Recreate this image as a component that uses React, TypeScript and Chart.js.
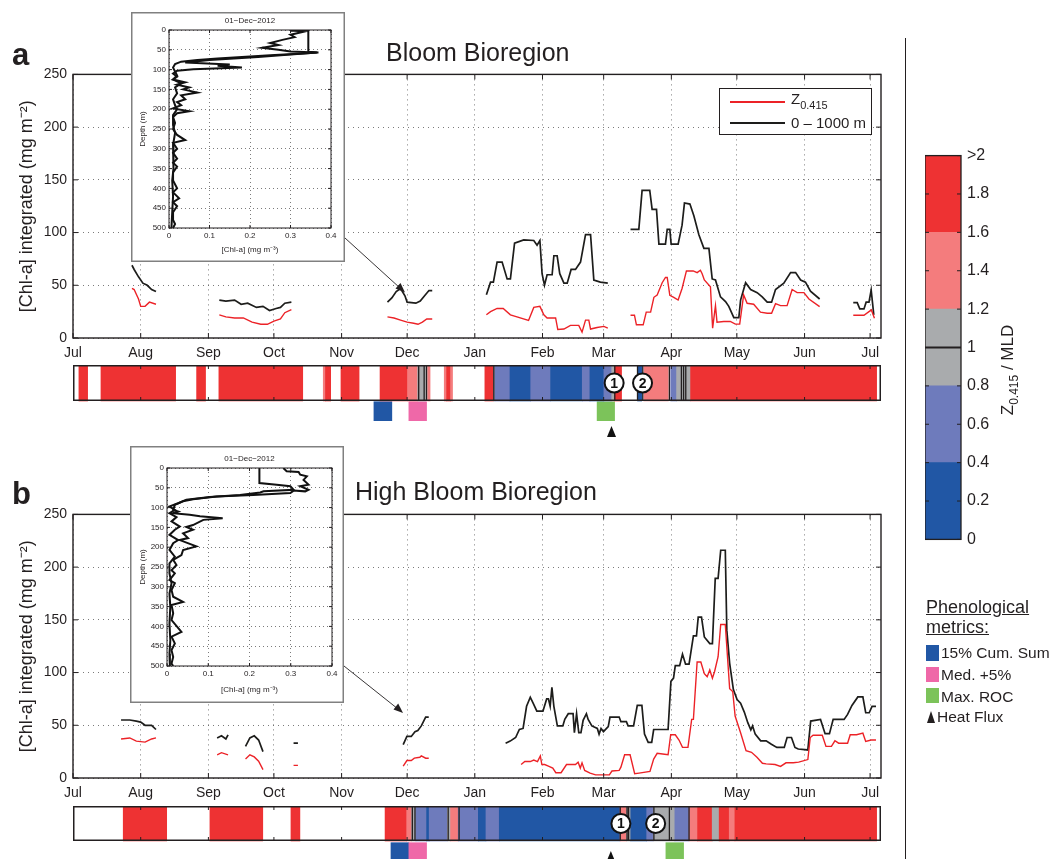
import React, { useEffect, useRef } from 'react';
import { Chart, registerables } from 'chart.js';

Chart.register(...registerables);

const FONT = '"Liberation Sans", Arial, Helvetica, sans-serif';
Chart.defaults.font.family = FONT;
Chart.defaults.font.size = 14;
Chart.defaults.color = '#231f20';

// ---------------- axes / ticks ----------------
const MONTH_DAYS = [0, 31, 62, 92, 123, 153, 184, 215, 243, 274, 304, 335, 365];
const MONTH_LABELS = ['Jul', 'Aug', 'Sep', 'Oct', 'Nov', 'Dec', 'Jan', 'Feb', 'Mar', 'Apr', 'May', 'Jun', 'Jul'];
const Y_TICKS = [0, 50, 100, 150, 200, 250];
const CB_TICKS = [0, 0.2, 0.4, 0.6, 0.8, 1, 1.2, 1.4, 1.6, 1.8, 2];
const CB_TICK_LABELS = ['0', '0.2', '0.4', '0.6', '0.8', '1', '1.2', '1.4', '1.6', '1.8', '>2'];
const CB_EDGES = [0, 0.4, 0.8, 1.2, 1.6, 2];
const INSET_X_TICKS = [0, 0.1, 0.2, 0.3, 0.4];
const INSET_X_LABELS = ['0', '0.1', '0.2', '0.3', '0.4'];
const INSET_Y_TICKS = [0, 50, 100, 150, 200, 250, 300, 350, 400, 450, 500];

// ---------------- Bloom bioregion (a): [day since 1 Jul, mg m^-2] ----------------
const bloomBlack = [
  [27, 69], [28, 65], [30, 58], [32, 52], [34, 50], [36, 46], [38, 44], [50, null],
  [67, 36], [70, 35], [74, 36], [77, 32], [80, 33], [84, 29], [87, 30], [90, 26], [93, 28], [95, 29], [97, 33], [100, 34], [120, null],
  [144, 34], [146, 38], [148, 44], [150, 47], [152, 40], [153, 34], [157, 33], [159, 35], [161, 40], [163, 45], [164.5, 45], [175, null],
  [189.3, 41], [191.2, 53], [192.5, 53], [194.2, 72], [196.5, 72], [198.8, 56], [200.3, 56], [202.2, 90], [206.4, 93], [211, 92.5], [212.5, 88], [213.8, 92.5], [214.8, 61], [215.9, 50], [217.1, 60], [219.4, 60], [220.2, 78], [221.7, 78], [222.9, 61], [224.8, 52], [226.3, 52], [228.1, 65], [230.1, 65], [232.4, 72], [234.7, 98], [237, 98], [238.5, 55], [241.5, 53], [244.9, 52], [250, null],
  [255.3, 103], [259.1, 103], [260.6, 140], [264.1, 140], [265.2, 122], [267.2, 122], [268.3, 89], [271.3, 89], [272.1, 103], [273.3, 103], [273.9, 89], [277.1, 89], [278.9, 107], [280, 128], [282.5, 127], [284.3, 116], [286.6, 98], [288.9, 85], [291.2, 85], [292.7, 56], [294.2, 55], [296.5, 39], [298.8, 34.5], [300.3, 30], [302.6, 19.4], [304.9, 19.4], [305.7, 36], [308, 52.4], [310.3, 46], [313.3, 43], [315.6, 39], [317.9, 34], [319.9, 34], [321.7, 46], [325.5, 52], [328.6, 62], [330.9, 62], [333.2, 55], [335.4, 53], [337.7, 44.5], [341.9, 37], [350, null],
  [357.3, 33.5], [359.1, 33.5], [360.3, 27.6], [362.2, 27.6], [363.2, 34], [364.5, 34], [365.5, 45.5], [366.7, 22],
];
const bloomRed = [
  [27, 47], [28, 46], [30, 37], [31, 30], [33, 30], [35, 34], [38, 32], [50, null],
  [67, 22], [70, 20], [74, 19], [78, 19], [82, 15], [86, 13], [89, 13], [92, 16], [95, 18], [97, 24], [100, 27], [120, null],
  [144, 20], [147, 19], [150, 17], [153, 15], [156, 14], [158, 13], [160, 15], [162, 18], [164.5, 18], [175, null],
  [189.3, 22], [191.2, 25], [194.2, 28], [197, 28], [200.3, 22], [203.3, 20], [208.6, 16.6], [211, 29], [213.8, 30], [215.6, 22], [217.1, 19], [221, 19], [222, 8], [224.8, 8.5], [227.8, 12], [231.6, 12], [233.1, 5.6], [234.7, 17], [236.2, 17], [237, 8.5], [240, 10], [243.1, 11], [244.9, 9.4], [250, null],
  [255.3, 21.6], [257.1, 21.6], [258, 12.5], [261.1, 12.5], [262.5, 24.5], [264.5, 24.5], [266, 38.6], [267.5, 40.8], [269.8, 52.4], [271.3, 57.4], [272.1, 57.4], [273.3, 40.4], [275.1, 38.6], [277.1, 36], [278.9, 47], [280.9, 63.6], [284, 63.6], [285.8, 62], [287.3, 64.3], [288.1, 61], [289.1, 55], [291.9, 48.6], [292.9, 9.4], [294.2, 30.7], [294.9, 15], [298, 15.7], [301, 15.7], [303.3, 13.2], [305.3, 13.2], [307.1, 40.8], [308.7, 32.9], [311.7, 32], [314.8, 24.5], [317.9, 23.5], [319.9, 23.5], [321.7, 32.6], [324, 30.7], [327, 30.7], [329.3, 46], [331.6, 43], [334.7, 43], [337, 37], [341.9, 29.8], [350, null],
  [357.3, 21.6], [362.2, 21.6], [364.5, 25], [365.6, 26.6], [367, 18.8],
];

// ---------------- High bloom bioregion (b) ----------------
const highBlack = [
  [22, 55], [26, 55], [29, 54], [31, 53], [33, 50], [36, 50], [38, 46], [50, null],
  [66, 38], [68, 40], [70, 37], [71, 41], [75, null],
  [79, 30], [81, 38], [83, 40], [85, 36], [87, 25], [95, null],
  [101, 33], [103, 33], [120, null],
  [151.2, 31.6], [152.9, 39.4], [154.9, 39.4], [156.6, 43.8], [157.9, 45], [159.5, 49.4], [161.5, 57.8], [162.9, 57.8], [180, null],
  [198.1, 33], [200.2, 35], [202.7, 38.4], [204.4, 46], [206.1, 47], [207.7, 68], [209.4, 76.6], [210.7, 71], [212.4, 63.4], [215.2, 63.4], [216.9, 75], [217.7, 75], [218.5, 68], [219.3, 86], [220.2, 68], [221.8, 49.4], [224.3, 49.4], [225.2, 55.6], [226.8, 61], [229, 61], [229.6, 43], [230.6, 61], [231.6, 43], [232.6, 43], [233.6, 54.7], [235.1, 61], [235.9, 55.6], [237.6, 49.4], [240.1, 47], [240.9, 41.6], [241.8, 47], [242.9, 44], [245.1, 48.8], [245.9, 57.8], [250.1, 57.8], [250.9, 53.4], [253.4, 53.4], [254.2, 49.4], [256.7, 49.4], [258.4, 68.8], [260.5, 68.8], [261.7, 41.6], [263.4, 33.8], [265, 33.8], [265.9, 46], [272.5, 46], [273.8, 91.6], [275, 94.7], [275.8, 106.6], [277.8, 106.6], [279.1, 117.5], [280.5, 108], [282.1, 108], [284.1, 134.7], [285.5, 134.7], [286.3, 152.5], [287.8, 152.5], [289.1, 133.8], [291.6, 127.5], [292.8, 127.5], [294.1, 189.4], [295.4, 189.4], [296.6, 216], [298.7, 216], [299.4, 140], [300.7, 108.8], [302.4, 83.8], [304.1, 74.4], [305.7, 71], [307.4, 62.5], [309, 52.5], [310.4, 45.6], [311.2, 49.4], [312.4, 41.6], [314.9, 35.3], [317.4, 35.3], [319.8, 32], [322.3, 29], [325.7, 29], [327, 38.4], [329, 38.4], [330.6, 29], [332.1, 27.5], [336.5, 26.6], [337.8, 54], [342.3, 55.6], [344.4, 42], [346.4, 42], [348.1, 55.6], [353.1, 55.6], [354.7, 60.3], [356.7, 68.8], [359.4, 76.9], [361.7, 76.9], [363, 61.9], [364.6, 61.9], [365.9, 68], [367.7, 68],
];
const highRed = [
  [22, 37], [26, 38], [29, 35], [33, 34], [36, 37], [38, 38], [50, null],
  [66, 22], [68, 24], [71, 22], [75, null],
  [79, 18], [81, 22], [83, 20], [85, 16], [87, 8], [95, null],
  [101, 12], [103, 12], [120, null],
  [151.2, 11.3], [152.9, 16.6], [154.9, 16.6], [156.3, 18.8], [158.8, 19.7], [159.5, 21], [161.5, 18.8], [162.9, 18.8], [180, null],
  [205.2, 12.8], [206.9, 15.6], [209.4, 15.6], [211, 17], [212.7, 15.6], [214, 21], [214.7, 12.8], [216, 12.8], [217.7, 11.3], [219.7, 9.4], [221.1, 5], [223.5, 5], [226, 12.8], [230.1, 12.8], [231.3, 15], [232.3, 9.4], [233.1, 14.4], [234.3, 7.2], [236.8, 4.7], [239.3, 3], [245.6, 3], [246.8, 6.6], [250.1, 7.2], [250.9, 10.3], [252.6, 22], [255.1, 22], [257.2, 4], [259.2, 4.6], [264.2, 6.3], [265.9, 18], [267.5, 23.4], [270, 22.8], [272.5, 22], [273.7, 41], [275.8, 41], [277.5, 36], [279.1, 29], [281.6, 29], [283.3, 55.6], [284.1, 55.6], [285.8, 110], [287.5, 110], [289.1, 99], [290.4, 96], [291.6, 102.5], [292.8, 94.7], [293.8, 101], [295.4, 115], [296.6, 145.6], [298.7, 145.6], [300.7, 84.7], [302.1, 82], [303.2, 58.8], [305.7, 43], [308.2, 26], [310.7, 24.4], [313.2, 19.7], [315.7, 14], [317.4, 13.4], [321.5, 12.8], [324, 11], [326.5, 14.4], [329.8, 14.4], [332.3, 15], [336.5, 17.5], [337.6, 38.4], [338.9, 40.6], [343.1, 40.6], [344.8, 30], [347.3, 30], [348.9, 35.3], [350.6, 33], [354.7, 33], [355.9, 41], [358.8, 41], [361.7, 42.5], [363, 34.7], [365.5, 36], [367.7, 36],
];

// ---------------- Z0.415 / MLD strips: [start day, end day, ratio] ----------------
const bloomStrip = [
  [2.7, 6.7, 1.8], [12.8, 47, 1.8], [56.6, 60.7, 1.8], [66.8, 105.2, 1.8], [114.6, 115.6, 1.4], [115.6, 118, 1.8],
  [122.7, 131, 1.8], [140.6, 153.2, 1.8], [153.2, 157.8, 1.4], [157.8, 161.5, 1.0], [162.4, 163.5, 1.4],
  [170, 171.1, 1.4], [171.1, 172.9, 1.8], [172.9, 173.8, 1.4], [188.6, 192.5, 1.8], [192.5, 193.2, 1.0],
  [193.2, 200.1, 0.6], [200.1, 209.6, 0.2], [209.6, 218.7, 0.6], [218.7, 233.2, 0.2], [233.2, 236.7, 0.6],
  [236.7, 243.1, 0.2], [243.1, 246.7, 0.6], [246.7, 248, 1.0], [248, 251.2, 1.8], [258.5, 260.4, 0.2],
  [261.4, 272.6, 1.4], [273.7, 276.4, 0.6], [276.4, 282.8, 1.0], [282.8, 368, 1.8],
];
const bloomCrossings = [158.3, 160.8, 161.9, 192.7, 248.1, 258.5, 260.9, 273.1, 278.6, 279.6, 280.6];
const highStrip = [
  [23, 42.9, 1.8], [62.7, 86.9, 1.8], [99.8, 103.9, 1.8], [142.9, 152.8, 1.8], [152.8, 155.1, 1.4], [155.1, 157, 1.0],
  [157, 161.9, 0.6], [161.9, 163.1, 0.2], [163.1, 171.4, 0.6], [171.4, 172.9, 1.0], [172.9, 176.4, 1.4],
  [176.4, 185.6, 0.6], [185.6, 189.1, 0.2], [189.1, 195.2, 0.6], [195.2, 250.5, 0.2], [250.5, 253.5, 1.4],
  [253.5, 255.4, 1.0], [255.4, 262.7, 0.2], [262.7, 265.7, 0.6], [265.7, 275.6, 1.0], [275.6, 282.1, 0.6],
  [282.1, 286, 1.4], [286, 292.7, 1.8], [292.7, 295.9, 1.0], [295.9, 300.5, 1.8], [300.5, 303.1, 1.4], [303.1, 368, 1.8],
];
const highCrossings = [155.4, 156.6, 171.8, 176.8, 250.6, 253.7, 254.4, 266, 273.1, 282.1];

// ---------------- phenological metrics ----------------
const bloomCumSum = [137.8, 146];
const bloomMedian = [153.8, 161.9];
const bloomMaxRoc = [240, 248];
const bloomHeatFlux = 246.6;
const bloomEvents = [247.8, 260.8];
const highCumSum = [145.6, 153.8];
const highMedian = [153.8, 161.9];
const highMaxRoc = [271.5, 279.6];
const highHeatFlux = 246.3;
const highEvents = [250.9, 266.8];

// ---------------- inset profiles 01-Dec-2012: [Chl-a mg m^-3, depth m] ----------------
const bloomProfile1 = [
  [0.31, 0], [0.33, 5], [0.30, 12], [0.31, 18], [0.28, 25], [0.25, 33], [0.27, 38], [0.23, 45], [0.27, 50], [0.30, 54],
  [0.365, 57], [0.30, 62], [0.22, 68], [0.16, 72], [0.10, 76], [0.04, 82], [0.15, 87], [0.12, 90], [0.18, 95], [0.06, 99],
  [0.02, 103], [0.01, 110], [0.02, 118], [0.01, 125], [0.04, 132], [0.02, 138], [0.05, 145], [0.035, 150], [0.07, 158],
  [0.03, 165], [0.04, 175], [0.02, 182], [0.03, 190], [0.01, 198], [0.05, 205], [0.02, 210], [0.01, 220], [0.015, 235],
  [0.01, 250], [0.02, 265], [0.04, 278], [0.01, 285], [0.02, 300], [0.01, 310], [0.02, 325], [0.01, 335], [0.02, 345],
  [0.01, 360], [0.01, 380], [0.02, 400], [0.01, 410], [0.025, 425], [0.01, 435], [0.02, 445], [0.01, 460], [0.01, 480],
  [0.015, 490], [0.01, 500],
];
const bloomProfile2 = [
  [0.30, 2], [0.344, 2], [0.344, 55], [0.369, 57], [0.32, 60], [0.25, 64], [0.18, 68], [0.12, 72], [0.07, 76], [0.03, 80],
  [0.015, 86], [0.01, 95], [0.015, 105], [0.02, 115], [0.01, 125], [0.03, 135], [0.015, 145], [0.02, 160], [0.01, 175],
  [0.015, 190], [0.02, 200], [0.01, 215], [0.01, 240], [0.015, 260], [0.01, 290], [0.012, 320], [0.01, 350], [0.008, 380],
  [0.01, 420], [0.008, 460], [0.006, 500],
];
const highProfile1 = [
  [0.282, 0], [0.29, 8], [0.319, 10], [0.323, 17], [0.339, 21], [0.331, 30], [0.343, 42], [0.323, 46], [0.343, 55],
  [0.335, 59], [0.307, 57], [0.299, 63], [0.209, 68], [0.12, 72], [0.063, 79], [0.039, 84], [0.019, 93], [0.015, 106],
  [0.027, 110], [0.015, 114], [0.055, 118], [0.08, 122], [0.135, 127], [0.088, 131], [0.063, 144], [0.047, 149],
  [0.063, 156], [0.039, 165], [0.051, 177], [0.031, 182], [0.071, 198], [0.039, 207], [0.035, 220], [0.015, 232],
  [0.023, 245], [0.011, 258], [0.019, 266], [0.006, 283], [0.019, 291], [0.011, 308], [0.015, 325], [0.039, 338],
  [0.011, 346], [0.015, 367], [0.011, 384], [0.035, 414], [0.011, 426], [0.019, 443], [0.011, 460], [0.015, 477],
  [0.011, 494], [0.015, 500],
];
const highProfile2 = [
  [0.224, 0], [0.224, 38], [0.266, 42], [0.299, 46], [0.307, 55], [0.234, 59], [0.226, 62], [0.177, 68], [0.104, 73],
  [0.047, 80], [0.027, 89], [0.006, 97], [0.019, 106], [0.006, 114], [0.023, 124], [0.011, 135], [0.031, 148],
  [0.019, 156], [0.006, 169], [0.027, 182], [0.015, 190], [0.006, 207], [0.019, 224], [0.006, 241], [0.006, 266],
  [0.011, 291], [0.006, 317], [0.008, 350], [0.006, 393], [0.008, 435], [0.006, 469], [0.007, 500],
];

// ---------------- styles ----------------
const RED_LINE = '#ec2227';
const BLACK_LINE = '#1d1d1b';
const GRID = 'rgba(90,90,90,0.8)';
const C_DBLUE = '#2157a5';
const C_MBLUE = '#6e7bbc';
const C_GREY = '#a9abad';
const C_PINK = '#f47c7d';
const C_RED = '#ee3233';
const C_MAGENTA = '#ef68a8';
const C_GREEN = '#7cc35a';
const CB_COLORS = [C_DBLUE, C_MBLUE, C_GREY, C_PINK, C_RED];

function ratioColor(r: number) {
  if (r < 0.4) return C_DBLUE;
  if (r < 0.8) return C_MBLUE;
  if (r < 1.2) return C_GREY;
  if (r < 1.6) return C_PINK;
  return C_RED;
}

const toXY = (pairs: any[]) => pairs.map(([x, y]) => ({ x, y }));

function makeFramePlugin(tickLen: number, lw: number, allSides = true) {
  return {
    id: 'axesFrame',
    afterDatasetsDraw(chart: any) {
      const { ctx, chartArea: a, scales } = chart;
      const xs = scales.x, ys = scales.y;
      ctx.save();
      ctx.setLineDash([]);
      ctx.strokeStyle = '#231f20';
      ctx.lineWidth = 1;
      ctx.beginPath();
      xs.ticks.forEach((t: any) => {
        const p = xs.getPixelForValue(t.value);
        ctx.moveTo(p, a.bottom); ctx.lineTo(p, a.bottom - tickLen);
        if (allSides) { ctx.moveTo(p, a.top); ctx.lineTo(p, a.top + tickLen); }
      });
      ys.ticks.forEach((t: any) => {
        const p = ys.getPixelForValue(t.value);
        ctx.moveTo(a.left, p); ctx.lineTo(a.left + tickLen, p);
        if (allSides) { ctx.moveTo(a.right, p); ctx.lineTo(a.right - tickLen, p); }
      });
      ctx.stroke();
      ctx.lineWidth = lw;
      ctx.strokeRect(a.left, a.top, a.right - a.left, a.bottom - a.top);
      ctx.restore();
    },
  };
}

function mainChartConfig(black: any[], red: any[], padTop: number, xAxisH: number) {
  return {
    type: 'line',
    data: {
      datasets: [
        { label: 'Z0.415', data: toXY(red), borderColor: RED_LINE, borderWidth: 1.4, pointRadius: 0, tension: 0, spanGaps: false },
        { label: '0 – 1000 m', data: toXY(black), borderColor: BLACK_LINE, borderWidth: 1.7, pointRadius: 0, tension: 0, spanGaps: false },
      ],
    },
    options: {
      responsive: false,
      animation: false,
      events: [],
      layout: { padding: { top: padTop, right: 14, left: 0, bottom: 0 } },
      plugins: { legend: { display: false }, tooltip: { enabled: false } },
      scales: {
        x: {
          type: 'linear', min: 0, max: 370,
          afterBuildTicks: (s: any) => { s.ticks = MONTH_DAYS.map((v) => ({ value: v })); },
          afterFit: (s: any) => { s.height = xAxisH; },
          ticks: { autoSkip: false, maxRotation: 0, padding: 7, font: { size: 14 }, callback: (_v: any, i: number) => MONTH_LABELS[i] },
          grid: { color: GRID, lineWidth: 1, drawTicks: false },
          border: { display: false, dash: [1, 4] },
        },
        y: {
          type: 'linear', min: 0, max: 250,
          afterBuildTicks: (s: any) => { s.ticks = Y_TICKS.map((v) => ({ value: v })); },
          afterFit: (s: any) => { s.width = 73; },
          ticks: { padding: 6, font: { size: 14 } },
          grid: { color: GRID, lineWidth: 1, drawTicks: false },
          border: { display: false, dash: [1, 4] },
          title: { display: true, text: '[Chl-a] integrated (mg m⁻²)', font: { size: 18 }, padding: { top: 16, bottom: 0 } },
        },
      },
    },
    plugins: [makeFramePlugin(5, 1.4)],
  };
}

function makeStripPlugin(crossings: number[], events: number[], heatDay: number, stripH: number, triTop: number) {
  return {
    id: 'stripDecor',
    afterDatasetsDraw(chart: any) {
      const { ctx, scales } = chart;
      const xs = scales.x;
      ctx.save();
      ctx.strokeStyle = '#231f20';
      ctx.lineWidth = 1.3;
      ctx.beginPath();
      crossings.forEach((d) => { const p = xs.getPixelForValue(d); ctx.moveTo(p, 0); ctx.lineTo(p, stripH); });
      ctx.stroke();
      ctx.lineWidth = 1;
      ctx.beginPath();
      MONTH_DAYS.forEach((d) => {
        const p = xs.getPixelForValue(d);
        ctx.moveTo(p, 0); ctx.lineTo(p, 4);
        ctx.moveTo(p, stripH); ctx.lineTo(p, stripH - 4);
      });
      ctx.stroke();
      ctx.lineWidth = 1.5;
      ctx.strokeRect(0.75, 0.75, chart.width - 1.5, stripH - 1.5);
      events.forEach((d, i) => {
        const p = xs.getPixelForValue(d);
        const cy = stripH / 2;
        ctx.beginPath();
        ctx.arc(p, cy, 9.5, 0, Math.PI * 2);
        ctx.fillStyle = '#fff';
        ctx.fill();
        ctx.lineWidth = 2;
        ctx.strokeStyle = '#111';
        ctx.stroke();
        ctx.fillStyle = '#111';
        ctx.font = `bold 14px ${FONT}`;
        ctx.textAlign = 'center';
        ctx.textBaseline = 'middle';
        ctx.fillText(String(i + 1), p, cy + 1);
      });
      const hp = xs.getPixelForValue(heatDay);
      ctx.fillStyle = '#111';
      ctx.beginPath();
      ctx.moveTo(hp, triTop);
      ctx.lineTo(hp + 4.5, triTop + 11);
      ctx.lineTo(hp - 4.5, triTop + 11);
      ctx.closePath();
      ctx.fill();
      ctx.restore();
    },
  };
}

function stripConfig(segs: number[][], crossings: number[], cum: number[], med: number[], roc: number[], heat: number, events: number[], g: any) {
  const markers = [
    { r: cum, c: C_DBLUE },
    { r: med, c: C_MAGENTA },
    { r: roc, c: C_GREEN },
  ];
  return {
    type: 'bar',
    data: {
      datasets: [
        {
          data: segs.map(([s, e]) => ({ x: [s, e], y: g.stripH / 2 })),
          backgroundColor: segs.map(([, , r]) => ratioColor(r)),
          barThickness: g.stripH, grouped: false, borderWidth: 0,
        },
        {
          data: markers.map((m) => ({ x: m.r, y: g.markTop + g.markH / 2 })),
          backgroundColor: markers.map((m) => m.c),
          barThickness: g.markH, grouped: false, borderWidth: 0,
        },
      ],
    },
    options: {
      indexAxis: 'y',
      responsive: false,
      animation: false,
      events: [],
      layout: { padding: 0 },
      plugins: { legend: { display: false }, tooltip: { enabled: false } },
      scales: {
        x: { type: 'linear', min: 0, max: 370, display: false, offset: false },
        y: { type: 'linear', min: 0, max: g.h, reverse: true, display: false, offset: false, grid: { offset: false } },
      },
    },
    plugins: [makeStripPlugin(crossings, events, heat, g.stripH, g.triTop)],
  };
}

const colorbarPlugin = {
  id: 'cbFrame',
  afterDatasetsDraw(chart: any) {
    const { ctx, chartArea: a, scales } = chart;
    const ys = scales.y;
    ctx.save();
    ctx.strokeStyle = '#231f20';
    ctx.lineWidth = 1;
    ctx.beginPath();
    CB_TICKS.forEach((v) => {
      const p = ys.getPixelForValue(v);
      ctx.moveTo(a.left, p); ctx.lineTo(a.left + 4, p);
      ctx.moveTo(a.right, p); ctx.lineTo(a.right - 4, p);
    });
    ctx.stroke();
    ctx.lineWidth = 1.8;
    ctx.beginPath();
    const p1 = ys.getPixelForValue(1);
    ctx.moveTo(a.left, p1); ctx.lineTo(a.right, p1);
    ctx.stroke();
    ctx.lineWidth = 1.3;
    ctx.strokeRect(a.left, a.top, a.right - a.left, a.bottom - a.top);
    ctx.restore();
  },
};

function colorbarConfig() {
  return {
    type: 'bar',
    data: {
      labels: [''],
      datasets: CB_COLORS.map((c, i) => ({
        data: [[CB_EDGES[i], CB_EDGES[i + 1]]],
        backgroundColor: c, grouped: false, categoryPercentage: 1, barPercentage: 1, borderWidth: 0,
      })),
    },
    options: {
      responsive: false,
      animation: false,
      events: [],
      layout: { padding: { top: 11, bottom: 11, left: 0, right: 0 } },
      plugins: { legend: { display: false }, tooltip: { enabled: false } },
      scales: {
        x: { display: false },
        y: {
          position: 'right', min: 0, max: 2,
          afterBuildTicks: (s: any) => { s.ticks = CB_TICKS.map((v) => ({ value: v })); },
          afterFit: (s: any) => { s.width = 64; },
          ticks: { padding: 6, font: { size: 16 }, callback: (_v: any, i: number) => CB_TICK_LABELS[i] },
          grid: { display: false, drawTicks: false },
          border: { display: false },
        },
      },
    },
    plugins: [colorbarPlugin],
  };
}

function makeInsetPlugin(title: string) {
  return {
    id: 'insetDecor',
    beforeDraw(chart: any) {
      const { ctx } = chart;
      ctx.save();
      ctx.fillStyle = '#fff';
      ctx.fillRect(0, 0, chart.width, chart.height);
      ctx.restore();
    },
    afterDraw(chart: any) {
      const { ctx, chartArea: a } = chart;
      ctx.save();
      ctx.fillStyle = '#231f20';
      ctx.font = `8px ${FONT}`;
      ctx.textAlign = 'center';
      ctx.textBaseline = 'alphabetic';
      ctx.fillText(title, (a.left + a.right) / 2, a.top - 7);
      ctx.strokeStyle = '#808080';
      ctx.lineWidth = 1.5;
      ctx.strokeRect(0.75, 0.75, chart.width - 1.5, chart.height - 1.5);
      ctx.restore();
    },
  };
}

function insetConfig(p1: number[][], p2: number[][], g: any) {
  return {
    type: 'scatter',
    data: {
      datasets: [
        { data: toXY(p1), showLine: true, borderColor: '#111', borderWidth: 2, pointRadius: 0, tension: 0 },
        { data: toXY(p2), showLine: true, borderColor: '#111', borderWidth: 2, pointRadius: 0, tension: 0 },
      ],
    },
    options: {
      responsive: false,
      animation: false,
      events: [],
      layout: { padding: { top: g.padTop, right: g.padRight, left: 0, bottom: 0 } },
      plugins: { legend: { display: false }, tooltip: { enabled: false } },
      scales: {
        x: {
          type: 'linear', min: 0, max: 0.4,
          afterBuildTicks: (s: any) => { s.ticks = INSET_X_TICKS.map((v) => ({ value: v })); },
          afterFit: (s: any) => { s.height = g.xH; },
          ticks: { font: { size: 8 }, padding: 3, maxRotation: 0, autoSkip: false, callback: (_v: any, i: number) => INSET_X_LABELS[i] },
          grid: { color: GRID, drawTicks: false },
          border: { display: false, dash: [1, 3] },
          title: { display: true, text: '[Chl-a] (mg m⁻³)', font: { size: 8 }, padding: { top: 0, bottom: g.xTitlePad } },
        },
        y: {
          type: 'linear', min: 0, max: 500, reverse: true,
          afterBuildTicks: (s: any) => { s.ticks = INSET_Y_TICKS.map((v) => ({ value: v })); },
          afterFit: (s: any) => { s.width = g.yW; },
          ticks: { font: { size: 8 }, padding: 3, autoSkip: false },
          grid: { color: GRID, drawTicks: false },
          border: { display: false, dash: [1, 3] },
          title: { display: true, text: 'Depth (m)', font: { size: 8 }, padding: { top: g.yTitlePad, bottom: 0 } },
        },
      },
    },
    plugins: [makeFramePlugin(3, 1, true), makeInsetPlugin('01−Dec−2012')],
  };
}

function ChartCanvas({ left, top, width, height, make }: any) {
  const ref = useRef<HTMLCanvasElement>(null);
  useEffect(() => {
    const chart = new Chart(ref.current as any, make());
    return () => chart.destroy();
  }, []);
  return (
    <canvas
      ref={ref}
      width={width}
      height={height}
      style={{ position: 'absolute', left, top, width, height, display: 'block' }}
    />
  );
}

function T({ x, y, size, children, weight, style }: any) {
  return (
    <div
      style={{
        position: 'absolute', left: x, top: y - 0.8465 * size, fontSize: size, lineHeight: 1,
        fontFamily: FONT, fontWeight: weight || 'normal', whiteSpace: 'nowrap', color: '#231f20', ...style,
      }}
    >
      {children}
    </div>
  );
}

const Sub = ({ children, size, drop }: any) => (
  <span style={{ fontSize: size, position: 'relative', top: drop }}>{children}</span>
);

export default function App() {
  const stripGeomA = { h: 75, stripH: 36, markTop: 36.7, markH: 19, triTop: 61 };
  const stripGeomB = { h: 53, stripH: 35, markTop: 36.7, markH: 17, triTop: 45 };
  return (
    <div style={{ position: 'absolute', left: 0, top: 0, width: 1055, height: 859, background: '#fff', overflow: 'hidden', fontFamily: FONT }}>
      <ChartCanvas left={0} top={60} width={895} height={305} make={() => mainChartConfig(bloomBlack, bloomRed, 13, 27)} />
      <ChartCanvas left={0} top={500} width={895} height={306} make={() => mainChartConfig(highBlack, highRed, 14, 28)} />
      <ChartCanvas left={73} top={365} width={808} height={75} make={() => stripConfig(bloomStrip, bloomCrossings, bloomCumSum, bloomMedian, bloomMaxRoc, bloomHeatFlux, bloomEvents, stripGeomA)} />
      <ChartCanvas left={73} top={806} width={808} height={53} make={() => stripConfig(highStrip, highCrossings, highCumSum, highMedian, highMaxRoc, highHeatFlux, highEvents, stripGeomB)} />
      <ChartCanvas left={925} top={140} width={100} height={415} make={colorbarConfig} />
      <ChartCanvas left={131} top={12} width={214} height={250} make={() => insetConfig(bloomProfile1, bloomProfile2, { padTop: 18, padRight: 14, yW: 38, xH: 34, xTitlePad: 7, yTitlePad: 7 })} />
      <ChartCanvas left={130} top={446} width={214} height={257} make={() => insetConfig(highProfile2, highProfile1, { padTop: 22, padRight: 12, yW: 37, xH: 37, xTitlePad: 8, yTitlePad: 8 })} />

      <svg width={1055} height={859} style={{ position: 'absolute', left: 0, top: 0, pointerEvents: 'none' }}>
        <line x1={905.5} y1={38} x2={905.5} y2={859} stroke="#231f20" strokeWidth={1} />
        <line x1={345} y1={238} x2={400} y2={288} stroke="#231f20" strokeWidth={0.9} />
        <polygon points="405,292.5 395.5,288.5 400.5,283" fill="#231f20" />
        <line x1={344} y1={666} x2={398} y2={709} stroke="#231f20" strokeWidth={0.9} />
        <polygon points="403,713 393.5,709.5 398.2,703.6" fill="#231f20" />
      </svg>

      <T x={12} y={65} size={31} weight="bold">a</T>
      <T x={12} y={504} size={31} weight="bold">b</T>
      <T x={386} y={61} size={25}>Bloom Bioregion</T>
      <T x={355} y={500} size={25}>High Bloom Bioregion</T>

      <div style={{ position: 'absolute', left: 719, top: 88, width: 153, height: 47, border: '1.5px solid #231f20', background: '#fff', boxSizing: 'border-box' }} />
      <div style={{ position: 'absolute', left: 730, top: 101, width: 55, height: 2, background: RED_LINE }} />
      <div style={{ position: 'absolute', left: 730, top: 122, width: 55, height: 2, background: BLACK_LINE }} />
      <T x={791} y={104} size={15}>Z<Sub size={11} drop={5}>0.415</Sub></T>
      <T x={791} y={128} size={15}>0 – 1000 m</T>

      <div style={{ position: 'absolute', left: 1008 - 80, top: 370 - 11, width: 160, height: 22, lineHeight: '22px', textAlign: 'center', transform: 'rotate(-90deg)', fontSize: 17, fontFamily: FONT, color: '#231f20', whiteSpace: 'nowrap' }}>
        Z<Sub size={12} drop={5}>0.415</Sub> / MLD
      </div>

      <T x={926} y={613} size={18} style={{ textDecoration: 'underline' }}>Phenological</T>
      <T x={926} y={633} size={18} style={{ textDecoration: 'underline' }}>metrics:</T>
      <div style={{ position: 'absolute', left: 926, top: 645, width: 13, height: 16, background: C_DBLUE }} />
      <div style={{ position: 'absolute', left: 926, top: 667, width: 13, height: 15, background: C_MAGENTA }} />
      <div style={{ position: 'absolute', left: 926, top: 688, width: 13, height: 15, background: C_GREEN }} />
      <T x={941} y={658} size={15.5}>15% Cum. Sum</T>
      <T x={941} y={680} size={15.5}>Med. +5%</T>
      <T x={941} y={702} size={15.5}>Max. ROC</T>
      <div style={{ position: 'absolute', left: 926.5, top: 711, width: 0, height: 0, borderLeft: '4.5px solid transparent', borderRight: '4.5px solid transparent', borderBottom: '12px solid #231f20' }} />
      <T x={937} y={722} size={15.5}>Heat Flux</T>
    </div>
  );
}
